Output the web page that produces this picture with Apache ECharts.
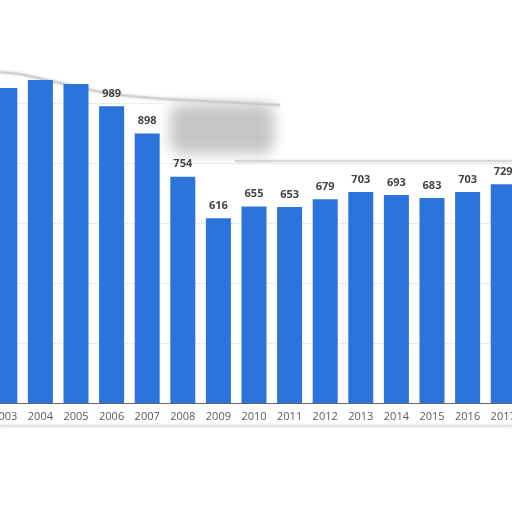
<!DOCTYPE html>
<html>
<head>
<meta charset="utf-8">
<script src="https://cdn.jsdelivr.net/npm/echarts@6/dist/echarts.min.js"></script>
<style>
  html, body { margin: 0; padding: 0; background: #fff; }
  #chart { width: 512px; height: 512px; }
</style>
</head>
<body>
<div id="chart"></div>
<script>
// years shown (first and last are cut by the frame)
const years = ["2003", "2004", "2005", "2006", "2007", "2008", "2009", "2010",
    "2011", "2012", "2013", "2014", "2015", "2016", "2017"];
// values, first three are estimated from bar heights (labels hidden under smear)
const values = [1050, 1077, 1063, 989, 898, 754, 616, 655, 653, 679, 703, 693, 683, 703, 729];
// which value labels are hidden in the picture
const hiddenLabels = ["2003", "2004", "2005"];

const chart = echarts.init(document.getElementById("chart"));

const barData = values.map((v, i) => ({
    value: v,
    label: { show: hiddenLabels.indexOf(years[i]) < 0 },
}));

const option = {
    backgroundColor: "#ffffff",
    animation: false,
    grid: {
        left: -13,
        right: -9,
        top: 43,
        bottom: 109,
        outerBoundsMode: "none",
        containLabel: false,
    },
    xAxis: {
        type: "category",
        data: years,
        axisLine: { lineStyle: { color: "#666", width: 1 } },
        axisTick: { show: false },
        axisLabel: {
            color: "#5a5a5a",
            fontSize: 11,
            fontFamily: "Open Sans",
            margin: 8,
        },
    },
    yAxis: {
        type: "value",
        min: 0,
        max: 1200,
        interval: 200,
        axisLabel: { show: false },
        axisLine: { show: false },
        axisTick: { show: false },
        splitLine: {
            lineStyle: { color: "#d8d8d8", type: "dotted", width: 1 },
        },
    },
    // the white smear and grey blur over the upper part of the picture
    graphic: [
        {
            type: "polygon",
            z: 1,
            shape: {
                points: [[0, 40], [512, 40], [512, 160], [235, 160], [165, 150],
                    [165, 100], [128, 97], [100, 93], [20, 75], [0, 73]],
            },
            style: { fill: "#ffffff" },
        },
        {
            type: "polyline",
            z: 1,
            shape: {
                points: [[0, 72], [20, 74], [100, 92], [128, 96], [165, 99], [280, 105]],
            },
            style: { stroke: "#cfcfcf", lineWidth: 2, shadowBlur: 3, shadowColor: "#c4c4c4" },
        },
        {
            type: "line",
            z: 1,
            shape: { x1: 235, y1: 161, x2: 512, y2: 161 },
            style: { stroke: "#d2d2d2", lineWidth: 1.5, shadowBlur: 2, shadowColor: "#ccc" },
        },
        {
            // blurred patch: only the shadow of an off-screen shape is seen
            type: "rect",
            z: 1,
            shape: { x: 1170, y: 104, width: 104, height: 50, r: 12 },
            style: {
                fill: "#c6c6c6",
                shadowBlur: 14,
                shadowColor: "#c6c6c6",
                shadowOffsetX: -1000,
            },
        },
        {
            type: "line",
            z: 1,
            shape: { x1: 0, y1: 426, x2: 512, y2: 426 },
            style: { stroke: "#e4e4e4", lineWidth: 2, shadowBlur: 3, shadowColor: "#ddd" },
        },
    ],
    series: [
        {
            type: "bar",
            z: 2,
            data: barData,
            barWidth: 25,
            itemStyle: { color: "#2a74db" },
            label: {
                position: "top",
                distance: 7,
                color: "#444",
                fontSize: 11,
                fontWeight: "bold",
                fontFamily: "Open Sans",
            },
        },
    ],
};

chart.setOption(option);
</script>
</body>
</html>
